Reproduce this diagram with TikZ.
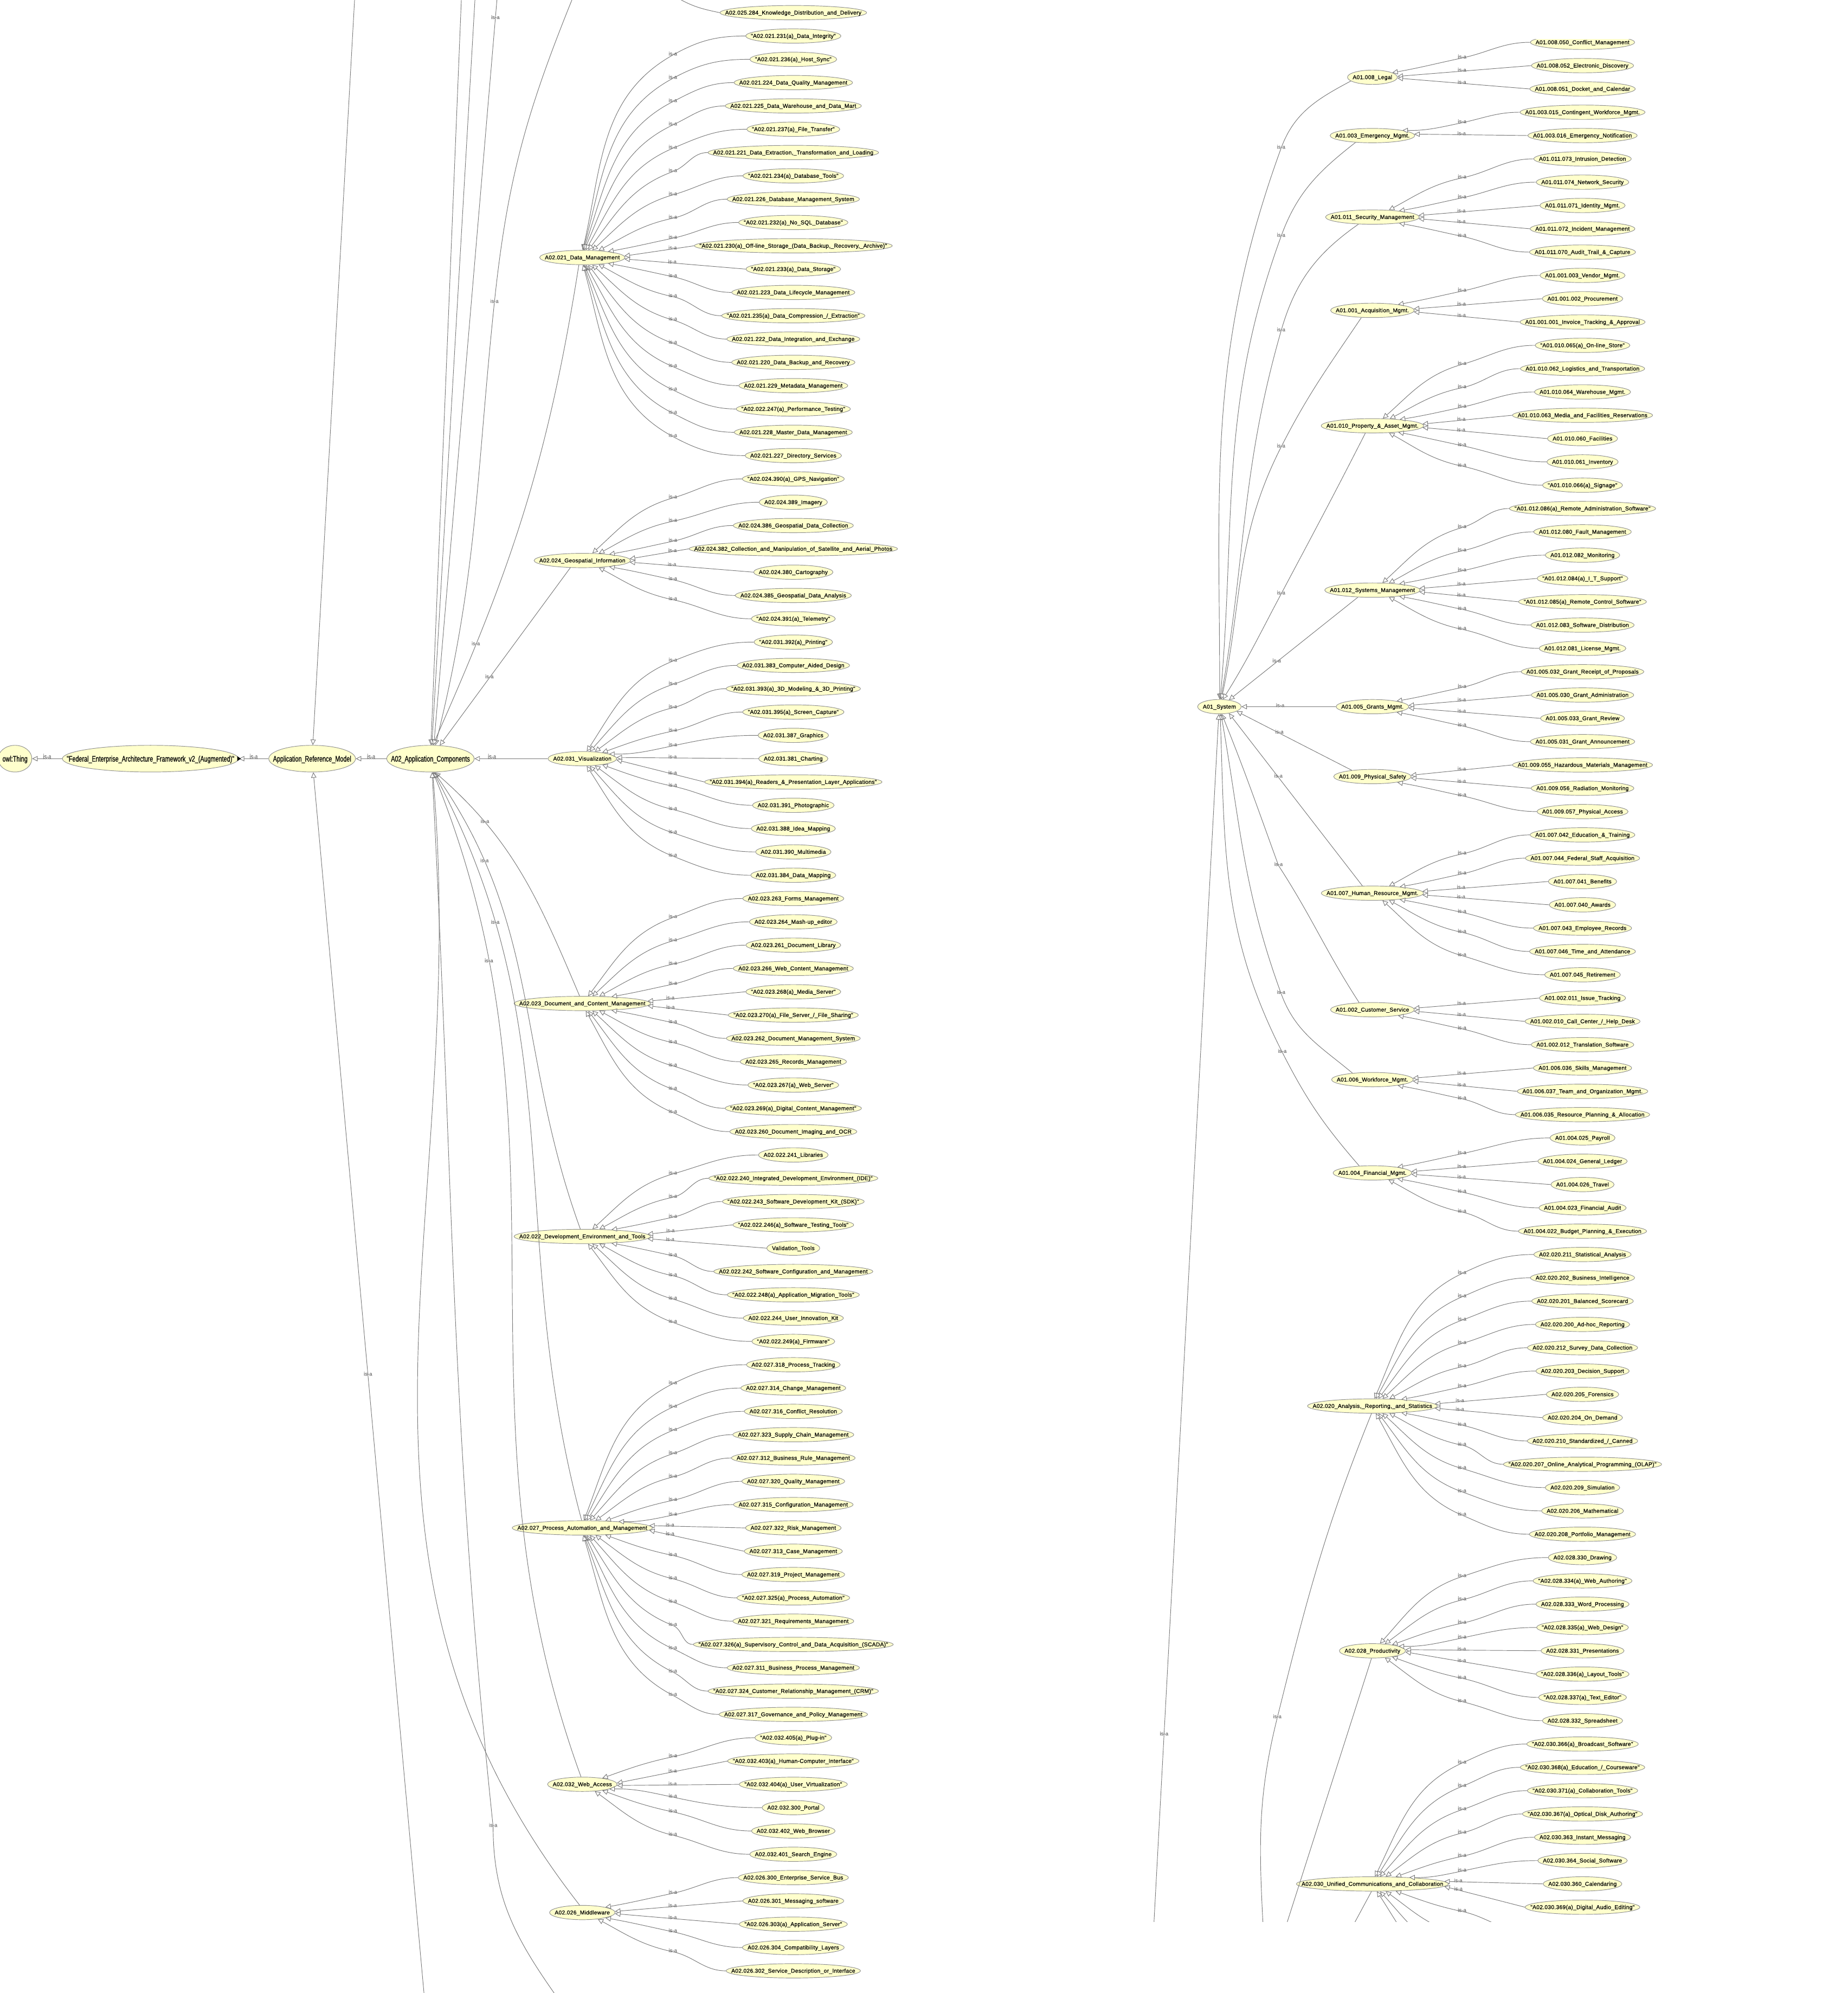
\documentclass[tikz,border=0pt]{standalone}
\usepackage{fontspec}
\usetikzlibrary{arrows.meta,shapes.geometric}
\newfontfamily\clsfont[LetterSpace=2.2,FakeBold=0.8]{Liberation Sans}
\newfontfamily\lblfont[FakeBold=0.4]{Liberation Sans}
\newfontfamily\rootfont[FakeStretch=0.72,FakeBold=0.8]{Liberation Sans}
\definecolor{clsfill}{HTML}{FFFFCC}
\definecolor{clsline}{HTML}{8E8E8E}
\definecolor{isagray}{HTML}{767676}
\newsavebox{\clsbox}

% is-a edge: #1 child point, #2 parent node, #3 x of the label column
\newcommand{\isaedge}[3]{%
  \path #1; \pgfgetlastxy{\isacx}{\isacy}%
  \path (#2.center); \pgfgetlastxy{\isapx}{\isapy}%
  \path (#2.east); \pgfgetlastxy{\isaex}{\isaey}%
  \pgfmathsetmacro{\isad}{\isacy-\isapy}%
  \pgfmathsetmacro{\isan}{abs(\isad)/18.34}%
  \pgfmathsetmacro{\isas}{\isad>0 ? 1 : -1}%
  \ifdim\isan pt<1pt
    \pgfmathsetmacro{\isapos}{(\isacx-#3)/(\isacx-\isaex)}%
    \pgfmathtruncatemacro{\isaend}{2*\isas}%
    \draw[isa] #1 -- node[lbl,pos=\isapos]{is-a} (#2.\isaend);%
  \else
    \pgfmathsetmacro{\isaoff}{22*exp(-0.55*(\isan-1.5))}%
    \pgfmathtruncatemacro{\isaend}{\isas*atan2(5.4,\isaoff)}%
    \pgfmathsetmacro{\isain}{\isas*(85-75*exp(-0.28*(\isan-1.5)))}%
    \pgfmathsetmacro{\isamid}{\isas*max(12,0.38*abs(\isain))}%
    \pgfmathsetmacro{\isaout}{180+\isamid}%
    \pgfmathsetmacro{\isaly}{\isacy-\isas*min(15,0.45*abs(\isad))}%
    \draw[isa] #1 to[out=180,in=\isamid] (#3,\isaly) node[lbl]{is-a}
      to[out=\isaout,in=\isain] (#2.\isaend);%
  \fi}

\begin{document}
\catcode`\_=12
\begin{tikzpicture}[x=1pt, y=1pt,
  cls/.style={ellipse, draw=clsline, fill=clsfill, line width=0.4pt,
    minimum height=11.3pt, inner xsep=2.9pt, inner ysep=0pt,
    text height=3.3pt, text depth=0.3pt,
    font={\clsfont\fontsize{4.44}{5}\selectfont},
    execute at begin node={\begin{lrbox}{\clsbox}},
    execute at end node={\end{lrbox}\makebox[0.7071\wd\clsbox]{\usebox{\clsbox}}}},
  root/.style={cls, minimum height=21pt, inner xsep=2.4pt,
    text height=4.6pt, text depth=0pt,
    font={\rootfont\fontsize{6.4}{7}\selectfont}},
  isa/.style={draw=isagray, line width=0.4pt,
    -{Triangle[fill=white, length=4.3pt, width=4.1pt]}},
  lbl/.style={font={\lblfont\fontsize{4.1}{4.5}\selectfont}, text=isagray,
    inner sep=0pt, text depth=0pt, anchor=south, yshift=-0.5pt},
  rlbl/.style={lbl, font={\rootfont\fontsize{5.5}{6}\selectfont}, yshift=0pt}
]
\useasboundingbox (0,0) rectangle (1454,1568);

% root chain
\node[root] (thing) at (11.8,971.1) {owl:Thing};
\node[root] (fed) at (118.4,971.1) {"Federal_Enterprise_Architecture_Framework_v2_(Augmented)"};
\node[root] (arm) at (245.6,971.1) {Application_Reference_Model};
\node[root] (app) at (338.7,971.1) {A02_Application_Components};

% application component groups
\node[cls] (dm) at (458.2,1365.4) {A02.021_Data_Management};
\node[cls] (gi) at (458.2,1127) {A02.024_Geospatial_Information};
\node[cls] (vi) at (458.2,971.1) {A02.031_Visualization};
\node[cls] (dc) at (458.2,778.5) {A02.023_Document_and_Content_Management};
\node[cls] (de) at (458.2,595.2) {A02.022_Development_Environment_and_Tools};
\node[cls] (pa) at (458.2,365.9) {A02.027_Process_Automation_and_Management};
\node[cls] (wa) at (458.2,164.2) {A02.032_Web_Access};
\node[cls] (mw) at (458.2,63.3) {A02.026_Middleware};

% left column of leaves
\node[cls] (l0) at (624.2,1558) {A02.025.284_Knowledge_Distribution_and_Delivery};
\foreach \lbl [count=\k from 1] in {
"A02.021.231(a)_Data_Integrity",
"A02.021.236(a)_Host_Sync",
A02.021.224_Data_Quality_Management,
A02.021.225_Data_Warehouse_and_Data_Mart,
"A02.021.237(a)_File_Transfer",
{A02.021.221_Data_Extraction,_Transformation_and_Loading},
"A02.021.234(a)_Database_Tools",
A02.021.226_Database_Management_System,
"A02.021.232(a)_No_SQL_Database",
{"A02.021.230(a)_Off-line_Storage_(Data_Backup,_Recovery,_Archive)"},
"A02.021.233(a)_Data_Storage",
A02.021.223_Data_Lifecycle_Management,
"A02.021.235(a)_Data_Compression_/_Extraction",
A02.021.222_Data_Integration_and_Exchange,
A02.021.220_Data_Backup_and_Recovery,
A02.021.229_Metadata_Management,
"A02.022.247(a)_Performance_Testing",
A02.021.228_Master_Data_Management,
A02.021.227_Directory_Services,
"A02.024.390(a)_GPS_Navigation",
A02.024.389_Imagery,
A02.024.386_Geospatial_Data_Collection,
A02.024.382_Collection_and_Manipulation_of_Satellite_and_Aerial_Photos,
A02.024.380_Cartography,
A02.024.385_Geospatial_Data_Analysis,
"A02.024.391(a)_Telemetry",
"A02.031.392(a)_Printing",
A02.031.383_Computer_Aided_Design,
"A02.031.393(a)_3D_Modeling_\&_3D_Printing",
"A02.031.395(a)_Screen_Capture",
A02.031.387_Graphics,
A02.031.381_Charting,
"A02.031.394(a)_Readers_\&_Presentation_Layer_Applications",
A02.031.391_Photographic,
A02.031.388_Idea_Mapping,
A02.031.390_Multimedia,
A02.031.384_Data_Mapping,
A02.023.263_Forms_Management,
A02.023.264_Mash-up_editor,
A02.023.261_Document_Library,
A02.023.266_Web_Content_Management,
"A02.023.268(a)_Media_Server",
"A02.023.270(a)_File_Server_/_File_Sharing",
A02.023.262_Document_Management_System,
A02.023.265_Records_Management,
"A02.023.267(a)_Web_Server",
"A02.023.269(a)_Digital_Content_Management",
A02.023.260_Document_Imaging_and_OCR,
A02.022.241_Libraries,
"A02.022.240_Integrated_Development_Environment_(IDE)",
"A02.022.243_Software_Development_Kit_(SDK)",
"A02.022.246(a)_Software_Testing_Tools",
Validation_Tools,
A02.022.242_Software_Configuration_and_Management,
"A02.022.248(a)_Application_Migration_Tools",
A02.022.244_User_Innovation_Kit,
"A02.022.249(a)_Firmware",
A02.027.318_Process_Tracking,
A02.027.314_Change_Management,
A02.027.316_Conflict_Resolution,
A02.027.323_Supply_Chain_Management,
A02.027.312_Business_Rule_Management,
A02.027.320_Quality_Management,
A02.027.315_Configuration_Management,
A02.027.322_Risk_Management,
A02.027.313_Case_Management,
A02.027.319_Project_Management,
"A02.027.325(a)_Process_Automation",
A02.027.321_Requirements_Management,
"A02.027.326(a)_Supervisory_Control_and_Data_Acquisition_(SCADA)",
A02.027.311_Business_Process_Management,
"A02.027.324_Customer_Relationship_Management_(CRM)",
A02.027.317_Governance_and_Policy_Management,
"A02.032.405(a)_Plug-in",
"A02.032.403(a)_Human-Computer_Interface",
"A02.032.404(a)_User_Virtualization",
A02.032.300_Portal,
A02.032.402_Web_Browser,
A02.032.401_Search_Engine,
A02.026.300_Enterprise_Service_Bus,
A02.026.301_Messaging_software,
"A02.026.303(a)_Application_Server",
A02.026.304_Compatibility_Layers,
A02.026.302_Service_Description_or_Interface}
  \node[cls] (l\k) at (624.2,{1558-18.34*\k}) {\lbl};

% free ends of edges that leave the picture
\coordinate (up1) at (363,1568);
\coordinate (up2) at (373.7,1568);
\coordinate (up3) at (391,1568);
\coordinate (up4) at (450,1568);
\coordinate (dn1) at (436,0);
\coordinate (armup) at (279,1568);
\coordinate (armdn) at (333.6,0);
\coordinate (kdx) at (536,1568);

% root edges
\draw[isa] (fed) -- node[rlbl]{is-a} (thing);
\draw[isa] (arm) -- node[rlbl]{is-a} (fed);
\fill[black] ([xshift=1.6pt]fed.east) -- ++(-2.8,1.9) -- ++(0,-3.8) -- cycle;
\draw[isa] (app) -- node[rlbl]{is-a} (arm);
\draw[isa] (armup) -- (arm.87);
\draw[isa] (armdn) -- node[lbl,pos=.506]{is-a} (arm.-85);

% groups into A02_Application_Components
\draw[isa] (up1) -- (app.88);
\draw[isa] (up2) -- (app.84);
\draw[isa] (up3) -- node[lbl,pos=.025]{is-a} (app.76);
\draw[isa] (up4) to[out=-112,in=84] (389,1330) node[lbl]{is-a} to[out=-96,in=76] (app.70);
\draw[isa] (dm.-115) to[out=-99,in=66] node[lbl,pos=.8]{is-a} (app.80);
\draw[isa] (gi.-149) -- node[lbl,pos=.62]{is-a} (app.55);
\draw[isa] (vi) -- node[rlbl,pos=.76]{is-a} (app);
\draw[isa] (dc.110) to[out=113,in=-41] node[lbl,pos=.75]{is-a} (app.-72);
\draw[isa] (de.105) to[out=110,in=-55] node[lbl,pos=.8]{is-a} (app.-75);
\draw[isa] (pa.95) to[out=105,in=-62] node[lbl,pos=.8]{is-a} (app.-77);
\draw[isa] (wa.100) to[out=110,in=-68] node[lbl,pos=.82]{is-a} (app.-79);
\draw[isa] (mw.110) to[out=128,in=-85] (app.-81);
\draw[isa] (dn1) to[out=125,in=-90] (388,131) node[lbl]{is-a} to[out=96,in=-87] (app.-83);

% leaves into their groups
\draw[isa,-] (l0.west) to[out=168,in=-28] (kdx);
\foreach \a/\b/\grp in {1/19/dm, 20/26/gi, 27/37/vi, 38/48/dc, 49/57/de, 58/73/pa, 74/79/wa, 80/84/mw}
  \foreach \k in {\a,...,\b} {\isaedge{(l\k.west)}{\grp}{529.4}}

% right part, cut at top and bottom
\begin{scope}
\clip (880,56) rectangle (1454,1537);
\node[cls] (sys) at (959.5,1012) {A01_System};
\node[cls] (legal) at (1079.9,1507.2) {A01.008_Legal};
\node[cls] (em) at (1079.9,1461.3) {A01.003_Emergency_Mgmt.};
\node[cls] (sec) at (1079.9,1397.2) {A01.011_Security_Management};
\node[cls] (acq) at (1079.9,1323.8) {A01.001_Acquisition_Mgmt.};
\node[cls] (prop) at (1079.9,1233) {A01.010_Property_\&_Asset_Mgmt.};
\node[cls] (sm) at (1079.9,1103.7) {A01.012_Systems_Management};
\node[cls] (gr) at (1079.9,1012) {A01.005_Grants_Mgmt.};
\node[cls] (ps) at (1079.9,957) {A01.009_Physical_Safety};
\node[cls] (hr) at (1079.9,865.3) {A01.007_Human_Resource_Mgmt.};
\node[cls] (cs) at (1079.9,773.6) {A01.002_Customer_Service};
\node[cls] (wf) at (1079.9,718.6) {A01.006_Workforce_Mgmt.};
\node[cls] (fi) at (1079.9,645.2) {A01.004_Financial_Mgmt.};
\node[cls] (an) at (1079.9,461.8) {A02.020_Analysis,_Reporting,_and_Statistics};
\node[cls] (pr) at (1079.9,269.2) {A02.028_Productivity};
\node[cls] (uc) at (1079.9,85.8) {A02.030_Unified_Communications_and_Collaboration};

\foreach \lbl [count=\k from 0] in {
A01.008.050_Conflict_Management,
A01.008.052_Electronic_Discovery,
A01.008.051_Docket_and_Calendar,
A01.003.015_Contingent_Workforce_Mgmt.,
A01.003.016_Emergency_Notification,
A01.011.073_Intrusion_Detection,
A01.011.074_Network_Security,
A01.011.071_Identity_Mgmt.,
A01.011.072_Incident_Management,
A01.011.070_Audit_Trail_\&_Capture,
A01.001.003_Vendor_Mgmt.,
A01.001.002_Procurement,
A01.001.001_Invoice_Tracking_\&_Approval,
"A01.010.065(a)_On-line_Store",
A01.010.062_Logistics_and_Transportation,
A01.010.064_Warehouse_Mgmt.,
A01.010.063_Media_and_Facilities_Reservations,
A01.010.060_Facilities,
A01.010.061_Inventory,
"A01.010.066(a)_Signage",
"A01.012.086(a)_Remote_Administration_Software",
A01.012.080_Fault_Management,
A01.012.082_Monitoring,
"A01.012.084(a)_I_T_Support",
"A01.012.085(a)_Remote_Control_Software",
A01.012.083_Software_Distribution,
A01.012.081_License_Mgmt.,
A01.005.032_Grant_Receipt_of_Proposals,
A01.005.030_Grant_Administration,
A01.005.033_Grant_Review,
A01.005.031_Grant_Announcement,
A01.009.055_Hazardous_Materials_Management,
A01.009.056_Radiation_Monitoring,
A01.009.057_Physical_Access,
A01.007.042_Education_\&_Training,
A01.007.044_Federal_Staff_Acquisition,
A01.007.041_Benefits,
A01.007.040_Awards,
A01.007.043_Employee_Records,
A01.007.046_Time_and_Attendance,
A01.007.045_Retirement,
A01.002.011_Issue_Tracking,
A01.002.010_Call_Center_/_Help_Desk,
A01.002.012_Translation_Software,
A01.006.036_Skills_Management,
A01.006.037_Team_and_Organization_Mgmt.,
A01.006.035_Resource_Planning_\&_Allocation,
A01.004.025_Payroll,
A01.004.024_General_Ledger,
A01.004.026_Travel,
A01.004.023_Financial_Audit,
A01.004.022_Budget_Planning_\&_Execution,
A02.020.211_Statistical_Analysis,
A02.020.202_Business_Intelligence,
A02.020.201_Balanced_Scorecard,
A02.020.200_Ad-hoc_Reporting,
A02.020.212_Survey_Data_Collection,
A02.020.203_Decision_Support,
A02.020.205_Forensics,
A02.020.204_On_Demand,
A02.020.210_Standardized_/_Canned,
"A02.020.207_Online_Analytical_Programming_(OLAP)",
A02.020.209_Simulation,
A02.020.206_Mathematical,
A02.020.208_Portfolio_Management,
A02.028.330_Drawing,
"A02.028.334(a)_Web_Authoring",
A02.028.333_Word_Processing,
"A02.028.335(a)_Web_Design",
A02.028.331_Presentations,
"A02.028.336(a)_Layout_Tools",
"A02.028.337(a)_Text_Editor",
A02.028.332_Spreadsheet,
"A02.030.366(a)_Broadcast_Software",
"A02.030.368(a)_Education_/_Courseware",
"A02.030.371(a)_Collaboration_Tools",
"A02.030.367(a)_Optical_Disk_Authoring",
A02.030.363_Instant_Messaging,
A02.030.364_Social_Software,
A02.030.360_Calendaring,
"A02.030.369(a)_Digital_Audio_Editing"}
  \node[cls] (r\k) at (1245.2,{1534.7-18.34*\k}) {\lbl};

\coordinate (lng) at (907.7,50);
\coordinate (anx) at (994,50);
\coordinate (prx) at (1011,50);
\coordinate (ucx) at (1063,50);

% groups into A01_System
\draw[isa] (legal.190) to[out=208,in=70] (1008,1451.3) node[lbl]{is-a} to[out=250,in=90] (sys.88);
\draw[isa] (em.202) to[out=218,in=70] (1008,1382) node[lbl]{is-a} to[out=250,in=85] (sys.84);
\draw[isa] (sec.207) to[out=215,in=74] (1008,1307.6) node[lbl]{is-a} to[out=254,in=80] (sys.80);
\draw[isa] (acq.213) to[out=236,in=63] (1008,1216.2) node[lbl]{is-a} to[out=243,in=78] (sys.75);
\draw[isa] (prop.226) to[out=243,in=62] (1008,1100.6) node[lbl]{is-a} to[out=242,in=58] (sys.65);
\draw[isa] (sm.206) -- node[lbl,pos=.63]{is-a} (sys.35);
\draw[isa] (gr) -- node[lbl,pos=.59]{is-a} (sys);
\draw[isa] (ps.163) -- node[lbl,pos=.63]{is-a} (sys.-15);
\draw[isa] (hr.144) -- node[lbl,pos=.63]{is-a} (sys.-35);
\draw[isa] (cs.152) to[out=123,in=-57] (1006,887) node[lbl]{is-a} to[out=110,in=-68] (sys.-72);
\draw[isa] (wf.162) to[out=140,in=-70] (1008,786.4) node[lbl]{is-a} to[out=110,in=-80] (sys.-78);
\draw[isa] (fi.152) to[out=131,in=-63] (1009,740) node[lbl]{is-a} to[out=117,in=-88] (sys.-84);
\draw[isa] (lng) -- node[lbl,pos=.16]{is-a} (sys.-95);
\draw[isa,-] (an.-97) to[out=-112,in=76] (1005,216.5) node[lbl]{is-a} to[out=-104,in=93] (anx);
\draw[isa,-] (pr.-97) -- (prx);
\draw[isa,-] (uc.-97) -- (ucx);

% leaves into their groups
\foreach \a/\b/\grp in {0/2/legal, 3/4/em, 5/9/sec, 10/12/acq, 13/19/prop, 20/26/sm, 27/30/gr, 31/33/ps, 34/40/hr, 41/43/cs, 44/46/wf, 47/51/fi, 52/64/an, 65/72/pr, 73/80/uc}
  \foreach \k in {\a,...,\b} {\isaedge{(r\k.west)}{\grp}{1150.4}}
\foreach \k in {81,...,84} {
  \coordinate (h\k) at (1200,{1534.7-18.34*\k});
  \isaedge{(h\k)}{uc}{1150.4}}
\end{scope}
\end{tikzpicture}
\end{document}
